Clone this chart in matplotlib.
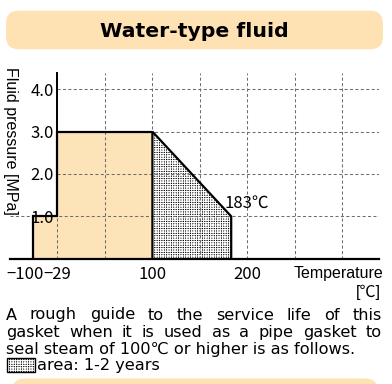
'''
水系流体 使用范围图
'''
import numpy as np
import matplotlib
matplotlib.use('Agg')
import matplotlib.pyplot as plt
from matplotlib.patches import Polygon, Rectangle, FancyBboxPatch
from matplotlib.transforms import Affine2D, ScaledTranslation

# ---- 数据 ----
title = 'Water-type fluid'
# 断轴：实际温度 -> 图上位置
temp_knots = [-200, -100, -29, 100, 500]
pos_knots = [-62.6, -26, 0, 100, 500]
x_ticks = [-100, -29, 100, 200]
x_tick_labels = ['−100', '−29', '100', '200']
y_ticks = [1.0, 2.0, 3.0, 4.0]
y_tick_labels = ['1.0', '2.0', '3.0', '4.0']
grid_pos = [0, 50, 100, 150, 200, 250, 300]
# 常用范围（橙色）
range_t = [-100, -100, -29, -29, 100, 100]
range_p = [0, 1.0, 1.0, 3.0, 3.0, 0]
# 蒸汽范围（网点）
steam_t = [100, 100, 183, 183]
steam_p = [0, 3.0, 1.0, 0]
end_label = '183℃'
note_lines = [
    'A rough guide to the service life of this',
    'gasket when it is used as a pipe gasket to',
    'seal steam of 100℃ or higher is as follows.',
]
legend_text = 'area: 1-2 years'

ORANGE = '#fde3b8'
BANNER = '#ffe2b3'
GRID = '#6e6e6e'
NARROW = ['Liberation Sans Narrow', 'Noto Sans CJK JP']
BODY = ['DejaVu Sans', 'Noto Sans CJK JP']

plt.rcParams['lines.scale_dashes'] = False
plt.rcParams['hatch.linewidth'] = 0.8

W, H = 392, 384
fig = plt.figure(figsize=(W / 100, H / 100), dpi=100)
fig.patch.set_facecolor('white')
# 像素坐标（左上角为原点）
px = Affine2D().scale(1 / W, -1 / H).translate(0, 1) + fig.transFigure


def fwd(x):
    return np.interp(x, temp_knots, pos_knots)


def inv(x):
    return np.interp(x, pos_knots, temp_knots)


# 标题横幅
fig.add_artist(FancyBboxPatch((6, 10.7), 377, 38.6, boxstyle='round,pad=0,rounding_size=13',
                              transform=px, facecolor=BANNER, edgecolor='none'))
fig.text(194, 36.7, title, transform=px, ha='center', va='baseline',
         fontsize=14.7, fontweight='bold', family='DejaVu Sans')
# 底部横幅
fig.add_artist(FancyBboxPatch((12, 378.5), 366, 30, boxstyle='round,pad=0,rounding_size=13',
                              transform=px, facecolor=BANNER, edgecolor='none'))

# 坐标系
ax = fig.add_axes([10 / W, 1 - 258.7 / H, 369.3 / W, 186 / H])
ax.set_xscale('function', functions=(fwd, inv))
ax.set_xlim(inv(-50), inv(339))
ax.set_ylim(0, 4.39)
ax.patch.set_alpha(0)

ax.add_patch(Polygon(np.column_stack([range_t, range_p]), closed=True,
                     facecolor=ORANGE, edgecolor='none', zorder=1))
ax.add_patch(Polygon(np.column_stack([steam_t, steam_p]), closed=True,
                     facecolor='black', edgecolor='white', linewidth=0,
                     hatch='+' * 7, zorder=1))

# 网格
dash = (0, (2.2, 1.7))
ax.vlines(inv(np.array(grid_pos)), 0, 4.39, colors=GRID, linestyles=dash, lw=0.75, zorder=2)
ax.hlines(y_ticks[1:], -29, inv(339), colors=GRID, linestyles=dash, lw=0.75, zorder=2)
ax.hlines(y_ticks[0], inv(-50), inv(339), colors=GRID, linestyles=dash, lw=0.75, zorder=2)

# 轮廓
ax.plot(range_t[:-1], range_p[:-1], color='black', lw=1.6, zorder=3,
        solid_joinstyle='miter', solid_capstyle='butt')
ax.plot(steam_t, steam_p, color='black', lw=1.6, zorder=3,
        solid_joinstyle='miter', solid_capstyle='butt')

for s in ['top', 'right']:
    ax.spines[s].set_visible(False)
ax.spines['left'].set_position(('data', -29))
ax.spines['left'].set_bounds(3, 4.39)
ax.spines['left'].set_linewidth(1.4)
ax.spines['bottom'].set_linewidth(1.6)

ax.set_xticks(x_ticks, x_tick_labels)
ax.set_yticks(y_ticks, y_tick_labels)
ax.tick_params(length=0)
ax.tick_params(axis='x', pad=5.5)
ax.tick_params(axis='y', pad=2.8)
for lab in ax.get_xticklabels() + ax.get_yticklabels():
    lab.set_family(NARROW)
    lab.set_fontsize(12)
xl = ax.get_xticklabels()[0]
xl.set_transform(xl.get_transform() + ScaledTranslation(-8 / 100, 0, fig.dpi_scale_trans))

ax.text(176, 1.31, end_label, ha='left', va='center', fontsize=12, family=NARROW, zorder=4)

# 轴标题
fig.text(10.8, 141, 'Fluid pressure [MPa]', transform=px, rotation=270,
         ha='center', va='center', fontsize=11.5, family='Liberation Sans')
fig.text(383, 278.3, 'Temperature', transform=px, ha='right', va='baseline',
         fontsize=11.5, family='Liberation Sans')
fig.text(381, 297, '[℃]', transform=px, ha='right', va='baseline',
         fontsize=11.5, family=['Liberation Sans', 'Noto Sans CJK JP'])


# 说明文字（按单词两端对齐）
def justify(text, x0, x1, y, **kw):
    r = fig.canvas.get_renderer()
    words = text.split(' ')
    widths = []
    for w in words:
        t = fig.text(0, 0, w, transform=px, **kw)
        widths.append(t.get_window_extent(r).width)
        t.remove()
    gap = (x1 - x0 - sum(widths)) / (len(words) - 1)
    x = x0
    for w, wd in zip(words, widths):
        fig.text(round(x), y, w, transform=px, ha='left', va='baseline', **kw)
        x += wd + gap


body_kw = dict(fontsize=11.6, family=BODY)
justify(note_lines[0], 6, 382, 319.5, **body_kw)
justify(note_lines[1], 6, 382, 337, **body_kw)
fig.text(6, 354, note_lines[2], transform=px, ha='left', va='baseline', **body_kw)

# 图例
fig.add_artist(Rectangle((7, 358), 28, 14, transform=px, facecolor='black',
                         edgecolor='white', linewidth=0, hatch='+' * 7))
fig.add_artist(Rectangle((7, 358), 28, 14, transform=px, fill=False,
                         edgecolor='black', linewidth=1.0))
fig.text(37.5, 370, legend_text, transform=px, ha='left', va='baseline', **body_kw)

fig.savefig('out.png', dpi=100)
